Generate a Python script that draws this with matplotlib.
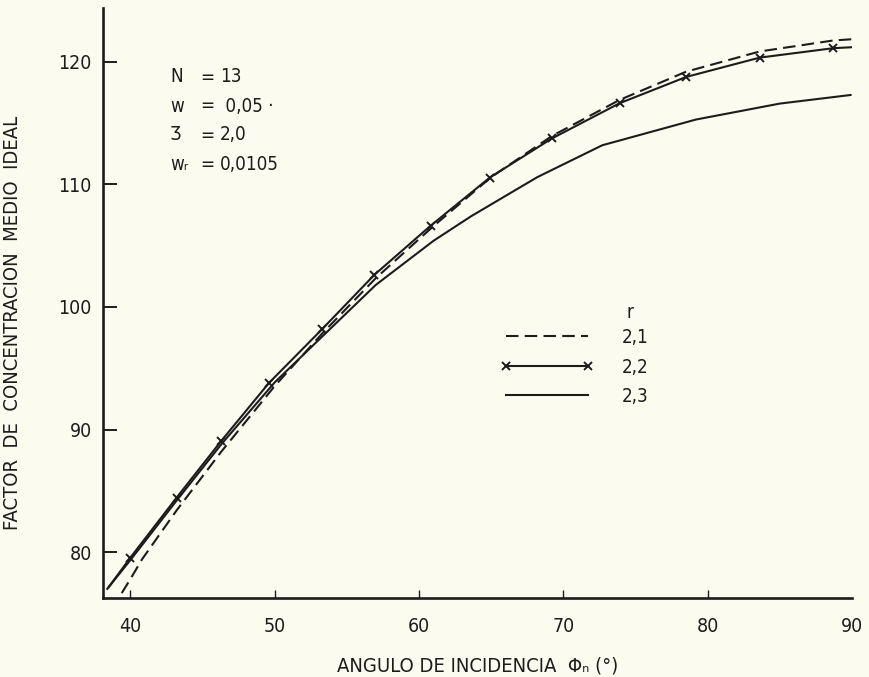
import matplotlib
matplotlib.use("Agg")
import matplotlib.pyplot as plt

plt.rcParams['font.family'] = ['DejaVu Sans']
plt.rcParams['font.stretch'] = 'condensed'

# r = 2,1 (dashed)
x_21 = [39.4, 40.0, 40.8, 43.2, 46.3, 50.0, 53.3, 57.0, 61.0, 65.0, 69.2, 73.9, 78.5, 83.6, 88.7, 90.0]
y_21 = [76.65, 77.8, 79.4, 83.4, 88.2, 93.55, 97.85, 102.35, 106.6, 110.6, 113.95, 116.9, 119.2, 120.85, 121.75, 121.85]

# r = 2,2 (solid with crosses)
x_22 = [38.5, 40.0, 43.2, 46.3, 49.6, 53.3, 56.9, 60.8, 64.9, 69.2, 73.9, 78.5, 83.6, 88.7, 90.0]
y_22 = [77.15, 79.55, 84.44, 89.08, 93.8, 98.21, 102.62, 106.63, 110.56, 113.75, 116.63, 118.77, 120.35, 121.12, 121.2]

# r = 2,3 (solid)
x_23 = [38.4, 40.0, 43.2, 46.3, 50.0, 53.3, 57.0, 61.0, 63.6, 68.2, 72.7, 79.2, 85.0, 89.9]
y_23 = [77.0, 79.35, 84.2, 88.8, 93.85, 97.6, 101.8, 105.4, 107.4, 110.6, 113.2, 115.3, 116.6, 117.3]

labels = ['2,1', '2,2', '2,3']
xticks = [40, 50, 60, 70, 80, 90]
yticks = [80, 90, 100, 110, 120]

param_names = ['N', 'w', 'Ʒ', 'wᵣ']
param_values = ['13', ' 0,05 ·', '2,0', '0,0105']

bg = '#fcfbf0'
ink = '#1c1c1c'

fig = plt.figure(figsize=(8.69, 6.77), dpi=100, facecolor=bg)
ax = fig.add_axes([103/869, 1 - 598/677, 749/869, 590/677], facecolor=bg)

l1, = ax.plot(x_21, y_21, color=ink, lw=1.5, dashes=(6, 3))
l2, = ax.plot(x_22, y_22, color=ink, lw=1.5, marker='x', ms=5.5, mew=1.4,
              markevery=list(range(1, len(x_22) - 1)))
l3, = ax.plot(x_23, y_23, color=ink, lw=1.5)

ax.set_xlim(38.1, 90.0)
ax.set_ylim(76.25, 124.4)

ax.spines['top'].set_visible(False)
ax.spines['right'].set_visible(False)
for s in ['left', 'bottom']:
    ax.spines[s].set_linewidth(1.9)
    ax.spines[s].set_color(ink)

ax.set_xticks(xticks)
ax.set_yticks(yticks)
ax.tick_params(axis='x', direction='in', length=6, width=1, pad=14,
               labelsize=14, colors=ink)
ax.tick_params(axis='y', direction='in', length=10, width=1.4, pad=8,
               labelsize=14, colors=ink)
ax.xaxis.get_major_ticks()[-1].tick1line.set_visible(False)

ax.set_xlabel('ANGULO DE INCIDENCIA  Φₙ (°)', fontsize=14.5, color=ink)
ax.xaxis.set_label_coords(0.5, -0.1)
ax.set_ylabel('FACTOR  DE  CONCENTRACION  MEDIO  IDEAL', fontsize=14.5, color=ink)
ax.yaxis.set_label_coords(-0.108, 0.466)

# parameter block
for i, (n, v) in enumerate(zip(param_names, param_values)):
    yy = 1 - (77 + 29 * i - 8) / 590
    ax.text((170 - 103) / 749, yy, n, transform=ax.transAxes, fontsize=13.5,
            va='center', ha='left', color=ink)
    ax.text((200 - 103) / 749, yy, '=', transform=ax.transAxes, fontsize=13.5,
            va='center', ha='left', color=ink)
    ax.text((220 - 103) / 749, yy, v, transform=ax.transAxes, fontsize=13.5,
            va='center', ha='left', color=ink)

leg = ax.legend([l1, l2, l3], labels, loc='upper left',
                bbox_to_anchor=((500 - 103) / 749, (598 - 328) / 590),
                frameon=False, fontsize=13.5, handlelength=5.0, handletextpad=1.5,
                labelspacing=0.56, borderpad=0, borderaxespad=0, numpoints=2)
for t in leg.get_texts():
    t.set_color(ink)
ax.text((630 - 103) / 749, (598 - 312) / 590, 'r', transform=ax.transAxes,
        fontsize=13.5, ha='center', va='center', color=ink)

fig.savefig('out.png', dpi=100, facecolor=bg)
